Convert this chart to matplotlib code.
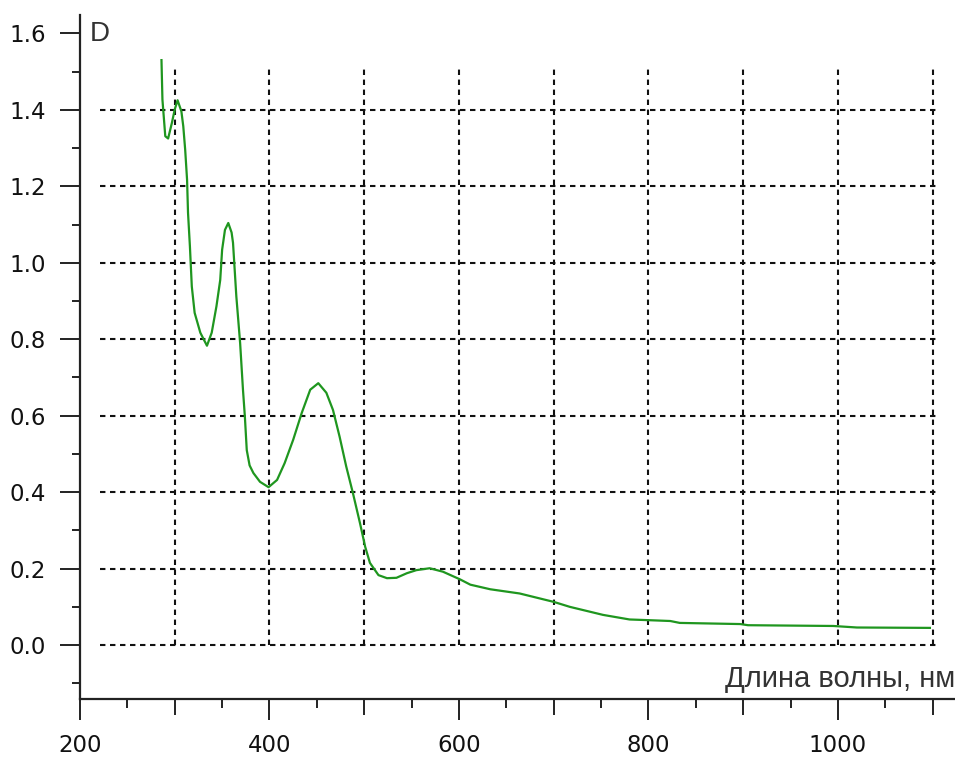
import matplotlib
matplotlib.use("Agg")
import matplotlib.pyplot as plt
from matplotlib.ticker import MultipleLocator, FixedLocator, NullFormatter

# absorption spectrum
wavelength = [286, 287, 290, 293, 297, 300, 303, 307, 309, 311, 313, 314, 316, 318,
              321, 327, 334, 339, 344, 348, 350, 353, 356.5, 360, 361.5, 365, 369,
              372, 374, 376, 379, 383, 390, 399, 408, 416, 425, 434, 443, 451.5, 460, 467,
              474, 481, 488, 495.5, 501, 506, 515, 524, 534, 545, 555, 569, 583, 601,
              612, 633, 664, 700, 717, 752, 780, 802, 823, 833, 897, 905, 995, 1020, 1097]
density = [1.53, 1.427, 1.331, 1.325, 1.366, 1.401, 1.425, 1.396, 1.357, 1.296, 1.217,
           1.131, 1.043, 0.938, 0.869, 0.817, 0.783, 0.817, 0.886, 0.955, 1.034, 1.086,
           1.104, 1.079, 1.052, 0.912, 0.79, 0.668, 0.598, 0.51, 0.47, 0.45, 0.427, 0.413,
           0.432, 0.476, 0.537, 0.607, 0.668, 0.685, 0.66, 0.615, 0.545, 0.467, 0.398,
           0.319, 0.257, 0.215, 0.183, 0.175, 0.176, 0.188, 0.196, 0.201, 0.192, 0.172,
           0.158, 0.146, 0.135, 0.113, 0.100, 0.079, 0.067, 0.065, 0.063, 0.058, 0.055,
           0.052, 0.050, 0.046, 0.045]

grid_x = [300, 400, 500, 600, 700, 800, 900, 1000, 1100]
grid_y = [0.0, 0.2, 0.4, 0.6, 0.8, 1.0, 1.2, 1.4]
mid_ticks = [300, 500, 700, 900, 1100]

fig = plt.figure(figsize=(9.55, 7.6), dpi=100)
ax = fig.add_axes([80 / 955, 61 / 760, 875 / 955, 684 / 760])

ax.set_xlim(200, 1123.5)
ax.set_ylim(-0.141, 1.648)

# dashed grid only over the data box
dash = (0, (2.6, 2.2))
ax.vlines(grid_x, 0.0, 1.51, colors="#111111", linestyles=dash, linewidth=1.5, zorder=1)
ax.hlines(grid_y, 221, 1108, colors="#111111", linestyles=dash, linewidth=1.5, zorder=1)

ax.plot(wavelength, density, color="#1f961f", linewidth=1.6, zorder=3)

for s in ["top", "right"]:
    ax.spines[s].set_visible(False)
for s in ["left", "bottom"]:
    ax.spines[s].set_linewidth(1.6)
    ax.spines[s].set_color("#222222")

ax.xaxis.set_major_locator(MultipleLocator(200))
ax.xaxis.set_minor_locator(FixedLocator([250, 350, 450, 550, 650, 750, 850, 950, 1050]))
ax.yaxis.set_major_locator(MultipleLocator(0.2))
ax.yaxis.set_minor_locator(FixedLocator([-0.1, 0.1, 0.3, 0.5, 0.7, 0.9, 1.1, 1.3, 1.5]))
ax.yaxis.set_major_formatter(matplotlib.ticker.FormatStrFormatter("%.1f"))
ax.set_xticks([200, 400, 600, 800, 1000])

ax.tick_params(axis="x", which="major", direction="out", length=15, width=1.4,
               labelsize=16.5, pad=10, color="#222222", labelcolor="#111111")
ax.tick_params(axis="x", which="minor", direction="out", length=6.5, width=1.4, color="#222222")
ax.tick_params(axis="y", which="major", direction="out", length=14.4, width=1.4,
               labelsize=16.5, pad=10, color="#222222", labelcolor="#111111")
ax.tick_params(axis="y", which="minor", direction="out", length=6, width=1.4, color="#222222")

# medium ticks at the odd hundreds
sec = ax.secondary_xaxis("bottom")
sec.set_xticks(mid_ticks)
sec.xaxis.set_major_formatter(NullFormatter())
sec.tick_params(direction="out", length=11.5, width=1.4, color="#222222")
sec.spines["bottom"].set_visible(False)

fig.text(1.0, 1 - 687 / 760, "Длина волны, нм", ha="right", va="baseline",
         fontsize=21, family="Liberation Sans", color="#333333")
fig.text(90 / 955, 1 - 41 / 760, "D", ha="left", va="baseline",
         fontsize=20, family="Liberation Sans", color="#333333")

fig.savefig("out.png", dpi=100)
